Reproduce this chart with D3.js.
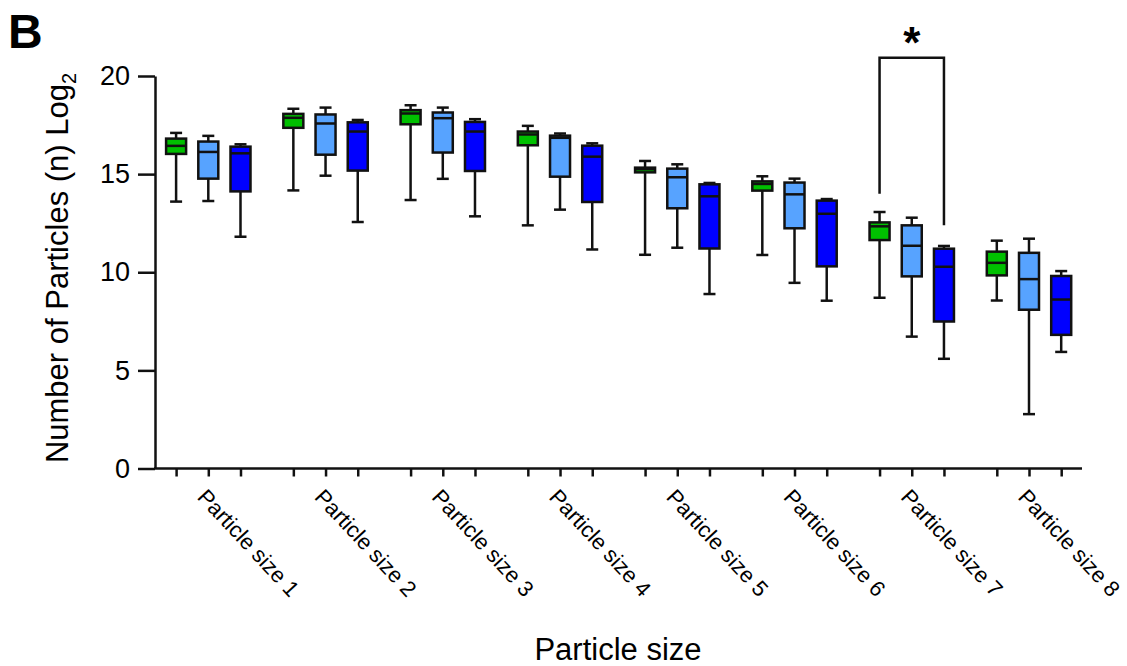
<!DOCTYPE html>
<html>
<head>
<meta charset="utf-8">
<title>Particle size box plot</title>
<script src="https://cdn.jsdelivr.net/npm/d3@7"></script>
<style>
  body { margin: 0; background: #fff; }
  svg text { font-family: "Liberation Sans", Arial, Helvetica, sans-serif; fill: #000; }
</style>
</head>
<body>
<div class="chart"></div>
<script>
var categories = ["Particle size 1", "Particle size 2", "Particle size 3", "Particle size 4",
                  "Particle size 5", "Particle size 6", "Particle size 7", "Particle size 8"];
var series = ["green", "lightblue", "blue"];
var seriesColors = ["#00c000", "#57a3ff", "#0000ff"];
var yTicks = [0, 5, 10, 15, 20];

// [min, q1, median, q3, max] per category, one array per series
var greenBoxes = [
  [13.6, 16.03, 16.44, 16.81, 17.10],
  [14.17, 17.36, 17.87, 18.07, 18.33],
  [13.68, 17.54, 18.09, 18.26, 18.51],
  [12.39, 16.47, 17.02, 17.17, 17.46],
  [10.89, 15.09, 15.25, 15.33, 15.67],
  [10.88, 14.16, 14.50, 14.63, 14.89],
  [8.70, 11.64, 12.34, 12.54, 13.07],
  [8.56, 9.84, 10.48, 11.05, 11.61]
];
var lightBlueBoxes = [
  [13.63, 14.77, 16.13, 16.66, 16.95],
  [14.92, 15.99, 17.58, 18.04, 18.39],
  [14.76, 16.10, 17.85, 18.14, 18.39],
  [13.19, 14.87, 16.85, 16.96, 17.07],
  [11.25, 13.26, 14.84, 15.28, 15.50],
  [9.46, 12.24, 13.97, 14.57, 14.77],
  [6.72, 9.79, 11.35, 12.39, 12.78],
  [2.77, 8.09, 9.65, 10.99, 11.71]
];
var blueBoxes = [
  [11.81, 14.12, 16.06, 16.40, 16.52],
  [12.56, 15.18, 17.17, 17.64, 17.76],
  [12.85, 15.16, 17.17, 17.66, 17.80],
  [11.16, 13.58, 15.89, 16.45, 16.57],
  [8.89, 11.21, 13.87, 14.48, 14.55],
  [8.55, 10.30, 12.98, 13.65, 13.73],
  [5.59, 7.49, 10.28, 11.20, 11.34],
  [5.94, 6.81, 8.61, 9.81, 10.06]
];
var allBoxes = [greenBoxes, lightBlueBoxes, blueBoxes];

// significance bracket: category, from series, to series, leg ends and top (y units)
var bracket = { category: "Particle size 7", from: "green", to: "blue", leftEnd: 14.0, rightEnd: 12.39, top: 20.93, label: "*" };

var width = 1127, height = 666;

var svg = d3.select(".chart").append("svg")
  .attr("width", width)
  .attr("height", height);

var y = d3.scaleLinear().domain([0, 20]).range([468.5, 76]);
var xGroup = d3.scalePoint().domain(categories).range([208.3, 1029]);
var xSub = d3.scalePoint().domain(series).range([-32.2, 32.2]);

var boxKeys = [];
categories.forEach(function (c) { series.forEach(function (s) { boxKeys.push(c + "|" + s); }); });
var xBox = d3.scaleOrdinal().domain(boxKeys).range(boxKeys.map(function (k) {
  var p = k.split("|");
  return xGroup(p[0]) + xSub(p[1]);
}));

var boxW = 20, capW = 12, lw = 2.5;

// x axis line and ticks
svg.append("line")
  .attr("x1", 154).attr("x2", 1082)
  .attr("y1", y(0)).attr("y2", y(0))
  .attr("stroke", "#111").attr("stroke-width", lw);

var xAxis = svg.append("g")
  .attr("transform", "translate(0," + y(0) + ")")
  .call(d3.axisBottom(xBox).tickFormat("").tickSize(8).tickSizeOuter(0));
xAxis.select(".domain").remove();
xAxis.selectAll(".tick line").attr("stroke", "#111").attr("stroke-width", lw);

// y axis
var yAxis = svg.append("g")
  .attr("transform", "translate(155,0)")
  .call(d3.axisLeft(y).tickValues(yTicks).tickSize(17).tickPadding(8).tickSizeOuter(0));
yAxis.select(".domain").attr("stroke", "#111").attr("stroke-width", lw);
yAxis.selectAll(".tick line").attr("stroke", "#111").attr("stroke-width", lw);
yAxis.selectAll(".tick text")
  .style("font-size", "27px")
  .style("font-family", "'Liberation Sans', Arial, sans-serif")
  .attr("fill", "#000");

// category labels
svg.append("g").selectAll("text")
  .data(categories)
  .enter()
  .append("text")
  .attr("transform", function (d) { return "translate(" + (xGroup(d) - 12) + ",498) rotate(47)"; })
  .style("font-size", "22px")
  .text(function (d) { return d; });

// boxes
series.forEach(function (s, si) {
  var g = svg.append("g").attr("class", "series-" + s);
  var data = allBoxes[si].map(function (v, i) { return { cat: categories[i], v: v }; });
  var item = g.selectAll("g").data(data).enter().append("g")
    .attr("transform", function (d) { return "translate(" + (xGroup(d.cat) + xSub(s)) + ",0)"; });

  item.append("line")
    .attr("x1", 0).attr("x2", 0)
    .attr("y1", function (d) { return y(d.v[0]); })
    .attr("y2", function (d) { return y(d.v[4]); })
    .attr("stroke", "#111").attr("stroke-width", lw);
  item.append("line")
    .attr("x1", -capW / 2).attr("x2", capW / 2)
    .attr("y1", function (d) { return y(d.v[0]); })
    .attr("y2", function (d) { return y(d.v[0]); })
    .attr("stroke", "#111").attr("stroke-width", lw);
  item.append("line")
    .attr("x1", -capW / 2).attr("x2", capW / 2)
    .attr("y1", function (d) { return y(d.v[4]); })
    .attr("y2", function (d) { return y(d.v[4]); })
    .attr("stroke", "#111").attr("stroke-width", lw);
  item.append("rect")
    .attr("x", -boxW / 2)
    .attr("width", boxW)
    .attr("y", function (d) { return y(d.v[3]); })
    .attr("height", function (d) { return y(d.v[1]) - y(d.v[3]); })
    .attr("fill", seriesColors[si])
    .attr("stroke", "#111").attr("stroke-width", lw);
  item.append("line")
    .attr("x1", -boxW / 2).attr("x2", boxW / 2)
    .attr("y1", function (d) { return y(d.v[2]); })
    .attr("y2", function (d) { return y(d.v[2]); })
    .attr("stroke", "#111").attr("stroke-width", lw);
});

// significance bracket
var bx1 = xGroup(bracket.category) + xSub(bracket.from);
var bx2 = xGroup(bracket.category) + xSub(bracket.to);
svg.append("path")
  .attr("d", "M" + bx1 + "," + y(bracket.leftEnd) + "V" + y(bracket.top) + "H" + bx2 + "V" + y(bracket.rightEnd))
  .attr("fill", "none").attr("stroke", "#111").attr("stroke-width", lw);
svg.append("text")
  .attr("x", (bx1 + bx2) / 2)
  .attr("y", 58)
  .attr("text-anchor", "middle")
  .style("font-size", "44px")
  .style("font-weight", "bold")
  .text(bracket.label);

// axis titles
svg.append("text")
  .attr("transform", "translate(68,268) rotate(-90)")
  .attr("text-anchor", "middle")
  .style("font-size", "31px")
  .html("Number of Particles (n) Log<tspan dy='8' style='font-size:20px'>2</tspan>");

svg.append("text")
  .attr("x", 618)
  .attr("y", 660)
  .attr("text-anchor", "middle")
  .style("font-size", "31px")
  .text("Particle size");

// panel letter
svg.append("text")
  .attr("x", 8)
  .attr("y", 48)
  .style("font-size", "48px")
  .style("font-weight", "bold")
  .text("B");
</script>
</body>
</html>
